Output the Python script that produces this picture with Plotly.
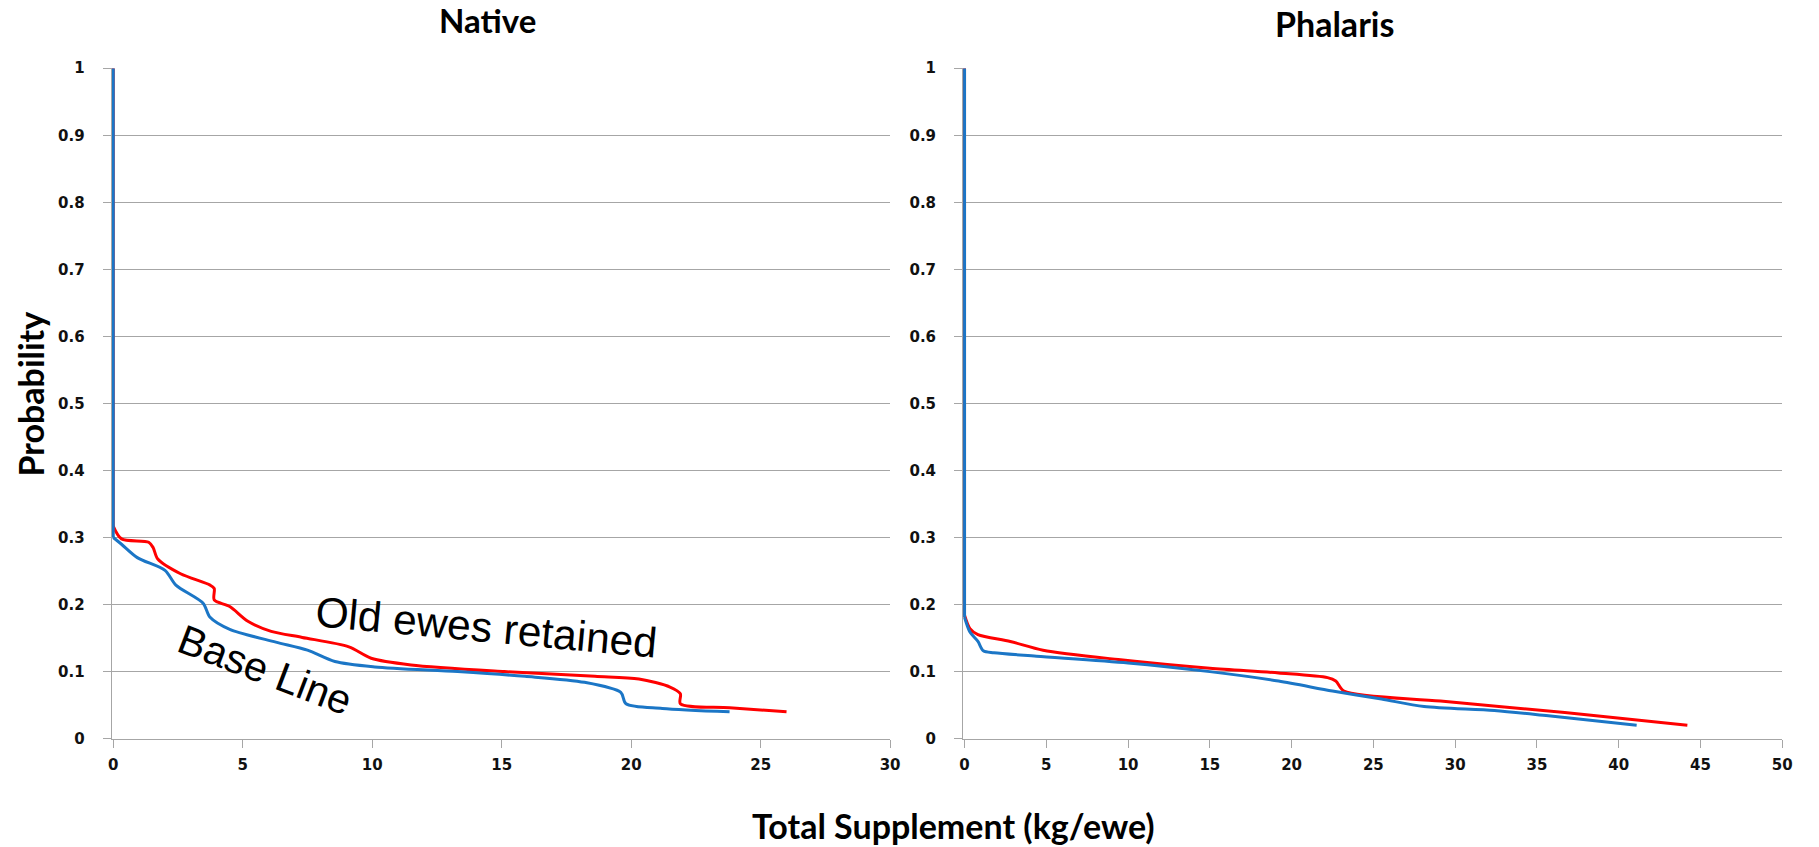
import plotly.graph_objects as go

W, H = 1819, 847

# ---- data ----
native_base_x = [0, 0, 0.32, 0.93, 2.0, 2.42, 3.47, 3.74, 4.5, 6.28, 7.5, 8.56, 10.1, 13.3, 15.9, 18.2, 19.6, 19.8, 21.2, 23.8]
native_base_y = [1.0, 0.30, 0.29, 0.27, 0.251, 0.229, 0.202, 0.181, 0.163, 0.144, 0.132, 0.115, 0.107, 0.100, 0.093, 0.084, 0.069, 0.052, 0.045, 0.040]

native_old_x = [0, 0, 0.32, 1.37, 1.54, 1.72, 2.6, 3.74, 3.9, 3.9, 4.5, 5.2, 6.1, 7.3, 9.1, 9.96, 11.5, 15.1, 18.6, 20.3, 21.5, 21.9, 21.9, 23.8, 26.0]
native_old_y = [1.0, 0.317, 0.298, 0.293, 0.285, 0.268, 0.246, 0.229, 0.224, 0.207, 0.197, 0.175, 0.160, 0.151, 0.137, 0.120, 0.110, 0.100, 0.093, 0.089, 0.077, 0.067, 0.052, 0.046, 0.040]

phal_base_x = [0, 0, 0.33, 0.82, 1.15, 1.8, 4.4, 10.0, 15.0, 19.2, 22.5, 25.5, 28.1, 32.4, 35.7, 41.1]
phal_base_y = [1.0, 0.181, 0.159, 0.145, 0.131, 0.128, 0.123, 0.113, 0.100, 0.086, 0.071, 0.059, 0.048, 0.042, 0.034, 0.020]

phal_old_x = [0, 0, 0.33, 0.82, 2.8, 4.8, 9.4, 15.0, 19.2, 22.2, 22.7, 23.2, 29.1, 36.7, 44.2]
phal_old_y = [1.0, 0.184, 0.164, 0.155, 0.145, 0.132, 0.118, 0.105, 0.098, 0.091, 0.086, 0.071, 0.056, 0.039, 0.020]

y_ticks = [0, 0.1, 0.2, 0.3, 0.4, 0.5, 0.6, 0.7, 0.8, 0.9, 1.0]
y_tick_text = ["0", "0.1", "0.2", "0.3", "0.4", "0.5", "0.6", "0.7", "0.8", "0.9", "1"]
x_ticks_native = [0, 5, 10, 15, 20, 25, 30]
x_ticks_phalaris = [0, 5, 10, 15, 20, 25, 30, 35, 40, 45, 50]

BLUE = "#1b76c6"
RED = "#ff0000"
GRID = "#a6a6a6"

fig = go.Figure()
line_kw = dict(mode="lines", showlegend=False, hoverinfo="skip")
sm = 0.8


def add_series(xs, ys, color, xa, ya):
    # vertical run at x = 0 drawn straight, the rest smoothed
    fig.add_trace(go.Scatter(x=xs[:2], y=ys[:2], line=dict(color=color, width=3), xaxis=xa, yaxis=ya, **line_kw))
    fig.add_trace(go.Scatter(x=xs[1:], y=ys[1:], line=dict(color=color, width=3, shape="spline", smoothing=sm),
                             xaxis=xa, yaxis=ya, **line_kw))


add_series(native_old_x, native_old_y, RED, "x", "y")
add_series(native_base_x, native_base_y, BLUE, "x", "y")
add_series(phal_old_x, phal_old_y, RED, "x2", "y2")
add_series(phal_base_x, phal_base_y, BLUE, "x2", "y2")

tickfont = dict(family="DejaVu Sans", size=15, color="#111111", weight="bold")


def xaxis(dom, rng, ticks, anchor):
    return dict(domain=dom, range=rng, tickvals=ticks, ticks="outside", ticklen=8, tickcolor=GRID,
                showline=True, linecolor=GRID, linewidth=1, showgrid=False, zeroline=False,
                tickfont=tickfont, anchor=anchor, fixedrange=True, ticklabelstandoff=4)


def yaxis(dom, anchor):
    return dict(domain=dom, range=[0, 1], tickvals=y_ticks, ticktext=y_tick_text, ticks="outside", ticklen=8,
                tickcolor=GRID, showline=True, linecolor=GRID, linewidth=1, showgrid=True, gridcolor=GRID,
                gridwidth=1, zeroline=False, tickfont=tickfont, anchor=anchor, fixedrange=True,
                ticklabelstandoff=15)


ydom = [(H - 745.5) / H, (H - 60.5) / H]
# small negative start so the vertical line at x=0 is drawn at full width
fig.update_layout(
    width=W, height=H,
    margin=dict(l=0, r=0, t=0, b=0),
    paper_bgcolor="white", plot_bgcolor="white",
    xaxis=xaxis([108.5 / W, 893 / W], [-0.06, 30], x_ticks_native, "y"),
    yaxis=yaxis(ydom, "x"),
    xaxis2=xaxis([966.5 / W, 1792 / W], [-0.09, 50], x_ticks_phalaris, "y2"),
    yaxis2=yaxis(ydom, "x2"),
)


def px_ann(text, x, y, size, family="Lato", bold=True, angle=0, color="black"):
    fig.add_annotation(text=text, xref="paper", yref="paper", x=x / W, y=1 - y / H,
                       xanchor="center", yanchor="middle", showarrow=False, textangle=angle,
                       font=dict(family=family, size=size, color=color, weight="bold" if bold else "normal"))


px_ann("Native", 487, 11, 33)
px_ann("Phalaris", 1341, 15, 34)
px_ann("Total Supplement (kg/ewe)", 957, 834, 34)
px_ann("Probability", 27, 393, 34, angle=-90)
px_ann("Old ewes retained", 486, 632, 42.5, family="Liberation Sans", bold=False, angle=5.3)
px_ann("Base Line", 263, 675, 41, family="Liberation Sans", bold=False, angle=21)

fig.write_html("out.html")
